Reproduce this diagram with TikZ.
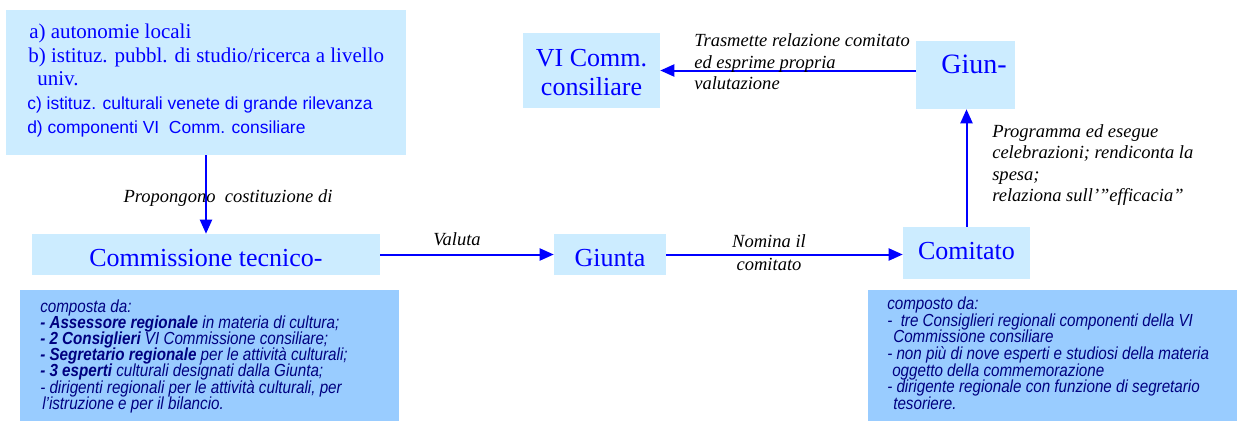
\documentclass[tikz,border=0pt]{standalone}
\usepackage{fontspec}
\setmainfont{Liberation Serif}
\setsansfont{Liberation Sans}
\newfontfamily\narrowsans{Liberation Sans}[FakeStretch=0.87]
\usetikzlibrary{arrows.meta}
\definecolor{lightbox}{HTML}{CCECFF}
\definecolor{darkbox}{HTML}{99CCFF}
\definecolor{navytxt}{RGB}{0,0,128}
\begin{document}
\begin{tikzpicture}[x=0.75pt,y=-0.75pt,
  lbox/.style={fill=lightbox, draw=none, inner sep=0pt},
  dbox/.style={fill=darkbox, draw=none, inner sep=0pt},
  bigtxt/.style={text=blue, font=\fontsize{19.5pt}{21pt}\selectfont},
  arr/.style={draw=blue, line width=1.5pt, -{Triangle[length=10.5pt,width=9pt]}},
  lbl/.style={font=\fontsize{13.9pt}{15.5pt}\selectfont\itshape, text=black, inner sep=0pt},
  srcserif/.style={text=blue, inner sep=0pt, anchor=base west, font=\fontsize{15.75pt}{17pt}\selectfont},
  srcsans/.style={text=blue, inner sep=0pt, anchor=base west, font=\sffamily\fontsize{13.1pt}{15pt}\selectfont},
  comp/.style={text=navytxt, inner sep=0pt, anchor=base west, font=\narrowsans\itshape\fontsize{13.1pt}{12pt}\selectfont}
]
\useasboundingbox[fill=white] (0,0) rectangle (1237,421);

% top-left source box
\node[lbox, minimum width=400*0.75pt, minimum height=145*0.75pt] (srcbox) at (206,82.5) {};
\node[srcserif] (sa) at (29,38) {a) autonomie locali};
\node[srcserif] (sb) at (28,62) {b) istituz. pubbl. di studio/ricerca a livello};
\node[srcserif] (sb2) at (37,85) {univ.};
\node[srcsans] (sc) at (27,109) {c) istituz. culturali venete di grande rilevanza};
\node[srcsans] (sd) at (27,133) {d) componenti VI\ \ Comm. consiliare};

% main boxes
\node[lbox, bigtxt, text height=18pt, text depth=0pt, minimum width=348*0.75pt, minimum height=41*0.75pt] (ctec) at (206,254.5) {Commissione tecnico-};
\node[lbox, bigtxt, text height=18pt, text depth=0pt, minimum width=112*0.75pt, minimum height=41*0.75pt] (giunta) at (610,254.5) {Giunta};
\node[lbox, bigtxt, text height=10pt, text depth=0pt, minimum width=127*0.75pt, minimum height=52*0.75pt] (comitato) at (966.5,253) {Comitato};
\node[lbox, minimum width=99*0.75pt, minimum height=68*0.75pt] (giun) at (965.5,75) {};
\node[bigtxt, anchor=base, inner sep=0pt] (giuntxt) at (974,73) {\fontsize{21pt}{22pt}\selectfont Giun-};
\node[lbox, minimum width=137*0.75pt, minimum height=75*0.75pt] (vic) at (591.5,70.5) {};
\node[bigtxt, anchor=base, inner sep=0pt] (victxt1) at (591.5,66) {VI Comm.};
\node[bigtxt, anchor=base, inner sep=0pt] (victxt2) at (591.5,95) {consiliare};

% arrows
\draw[arr] (srcbox.south) -- (ctec.north);
\draw[arr] (ctec.east) -- (giunta.west);
\draw[arr] (giunta.east) -- (giunta.east -| comitato.west);
\draw[arr] (comitato.north) -- (comitato.north |- giun.south);
\draw[arr] (giun.west |- vic.east) -- (vic.east);

% labels
\node[lbl, anchor=base] (lprop) at (228,202) {Propongono\ \ costituzione di};
\node[lbl, anchor=base] (lval) at (457,245) {Valuta};
\node[lbl, anchor=base] (lnom1) at (769,247) {Nomina il};
\node[lbl, anchor=base] (lnom2) at (769,270) {comitato};
\node[lbl, anchor=base west] (ltr1) at (694,46) {Trasmette relazione comitato};
\node[lbl, anchor=base west] (ltr2) at (694,68) {ed esprime propria};
\node[lbl, anchor=base west] (ltr3) at (694,89.5) {valutazione};
\node[lbl, anchor=base west] (lpr1) at (992,137) {Programma ed esegue};
\node[lbl, anchor=base west] (lpr2) at (992,158.5) {celebrazioni; rendiconta la};
\node[lbl, anchor=base west] (lpr3) at (992,180) {spesa;};
\node[lbl, anchor=base west] (lpr4) at (992,201.5) {relaziona sull’”efficacia”};

% bottom boxes
\node[dbox, minimum width=379*0.75pt, minimum height=131*0.75pt] (bl) at (209.5,355.5) {};
\node[dbox, minimum width=369*0.75pt, minimum height=131*0.75pt] (br) at (1052.5,355.5) {};

\node[comp] (bl1) at (40,312) {composta da:};
\node[comp] (bl2) at (40,328) {\bfseries - Assessore regionale\mdseries\ in materia di cultura;};
\node[comp] (bl3) at (40,344.3) {\bfseries - 2 Consiglieri\mdseries\ VI Commissione consiliare;};
\node[comp] (bl4) at (40,360.6) {\bfseries - Segretario regionale\mdseries\ per le attività culturali;};
\node[comp] (bl5) at (40,376.8) {\bfseries - 3 esperti\mdseries\ culturali designati dalla Giunta;};
\node[comp] (bl6) at (40,393) {- dirigenti regionali per le attività culturali, per};
\node[comp] (bl7) at (42,409.3) {l’istruzione e per il bilancio.};

\node[comp] (br1) at (887,309.5) {composto da:};
\node[comp] (br2) at (887,326) {-\ \ tre Consiglieri regionali componenti della VI};
\node[comp] (br3) at (893,342.6) {Commissione consiliare};
\node[comp] (br4) at (887,359.3) {- non più di nove esperti e studiosi della materia};
\node[comp] (br5) at (892,376) {oggetto della commemorazione};
\node[comp] (br6) at (887,392.6) {- dirigente regionale con funzione di segretario};
\node[comp] (br7) at (893,409.3) {tesoriere.};
\end{tikzpicture}
\end{document}
